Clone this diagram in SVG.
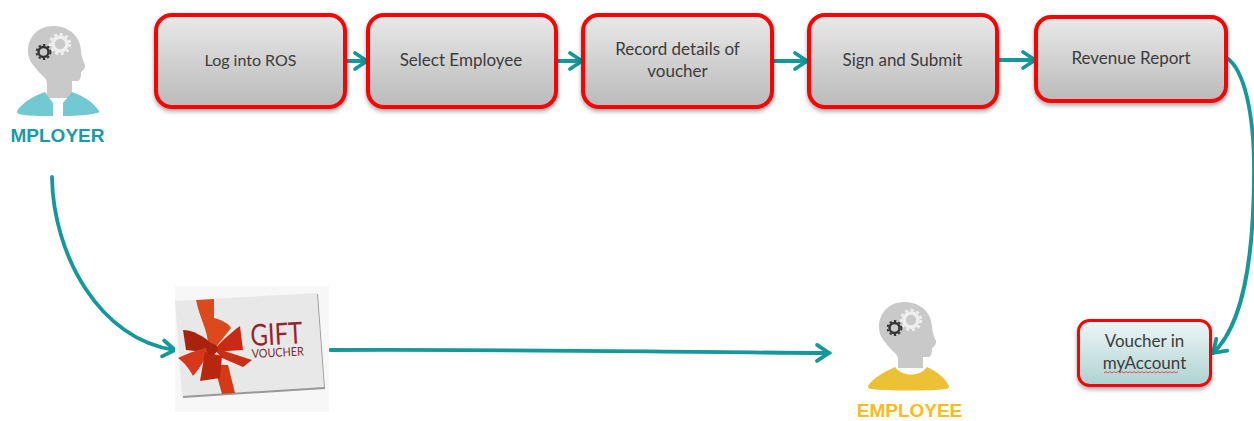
<svg xmlns="http://www.w3.org/2000/svg" width="1254" height="421" viewBox="0 0 1254 421">
<style>
.box{stroke:#fe0000;stroke-width:4;filter:url(#sh)}
.t{font-family:Lato,"Liberation Sans",sans-serif;font-size:17px;fill:#3c3c3c;text-anchor:middle}
.c{fill:none;stroke:#15989a;stroke-width:3.8;stroke-linecap:round;marker-end:url(#ah)}
.lab{font-family:"Liberation Sans",Arial,sans-serif;font-weight:bold;font-size:19px;text-anchor:middle}
</style>
<defs>
<linearGradient id="g" x1="0" y1="0" x2="0" y2="1"><stop offset="0" stop-color="#e9e9e9"/><stop offset="1" stop-color="#bababa"/></linearGradient>
<linearGradient id="b" x1="0" y1="0" x2="0" y2="1"><stop offset="0" stop-color="#eef6f6"/><stop offset="1" stop-color="#aed2d2"/></linearGradient>
<filter id="sh" x="-10%" y="-10%" width="120%" height="125%"><feDropShadow dx="0" dy="2.5" stdDeviation="2" flood-color="#000" flood-opacity=".35"/></filter>
<filter id="soft" x="-5%" y="-5%" width="110%" height="110%"><feGaussianBlur stdDeviation=".6"/></filter>
<marker id="ah" markerUnits="userSpaceOnUse" markerWidth="30" markerHeight="30" refX="19" refY="15" orient="auto"><path d="M7 7L19 15L7 23" fill="none" stroke="#15989a" stroke-width="3.8" stroke-linecap="round"/></marker>
<g id="head">
<path d="M53 26C38 26 28 37 28 51C28 60 33 65 38 71C43 77 47 78 47 84L47 98L72 98L72 81L78 81C81 80 81 75 81 72C83 71 86 67 85 65C83 60 81 56 81 50C80 36 69 26 53 26Z" fill="#c9c9c9"/>
<circle cx="60" cy="44" r="7" fill="none" stroke="#efefef" stroke-width="3.6"/>
<circle cx="60" cy="44" r="9.800" fill="none" stroke="#efefef" stroke-width="2.8" stroke-dasharray="3 2.7"/>
<circle cx="43.500" cy="52" r="5" fill="none" stroke="#333" stroke-width="2.4"/>
<circle cx="43.500" cy="52" r="7" fill="none" stroke="#333" stroke-width="1.8" stroke-dasharray="2.4 2.2"/>
</g>
</defs>
<rect width="1254" height="421" fill="#fff"/>

<g id="connectors">
<path class="c" d="M347 61L367 61"/>
<path class="c" d="M557 61L582 61"/>
<path class="c" d="M773 61L807 61"/>
<path class="c" d="M998 60L1035 60"/>
<path class="c" d="M1227 58C1244 70 1254 112 1254 170C1254 260 1243 325 1213 353"/>
<path class="c" d="M52 177C53 255 100 340 175 350"/>
<path class="c" d="M330 350C500 349 650 352 829 353"/>
</g>

<g id="employer">
<use href="#head"/>
<path d="M47 98L72 98L62 104L62 116L54 116L54 104Z" fill="#fff"/>
<path d="M17 111C22 103 33 96 45 92L53 103L53 116C40 116 27 116 19 114C17 113 17 112 17 111Z" fill="#73c9d3"/>
<path d="M99 111C94 103 84 96 72 92L63 103L63 116C78 116 90 115 97 113C99 113 99 112 99 111Z" fill="#73c9d3"/>
<text class="lab" x="57.500" y="142" fill="#1a9aa6">MPLOYER</text>
</g>

<g id="log-into-ros"><rect class="box" x="156" y="15" width="189" height="92" rx="16" fill="url(#g)"/><text class="t" x="250.500" y="66" style="font-size:16px">Log into ROS</text></g>
<g id="select-employee"><rect class="box" x="368" y="15" width="188" height="92" rx="16" fill="url(#g)"/><text class="t" x="461" y="66">Select Employee</text></g>
<g id="record-details"><rect class="box" x="583" y="15" width="189" height="92" rx="16" fill="url(#g)"/><text class="t" x="677.500" y="55">Record details of</text><text class="t" x="677.500" y="77">voucher</text></g>
<g id="sign-submit"><rect class="box" x="809" y="15" width="188" height="92" rx="16" fill="url(#g)"/><text class="t" x="902.500" y="66">Sign and Submit</text></g>
<g id="revenue-report"><rect class="box" x="1036" y="17" width="190" height="84" rx="15" fill="url(#g)"/><text class="t" x="1131" y="64">Revenue Report</text></g>

<g id="gift-voucher">
<rect x="175" y="286" width="154" height="126" fill="#f7f7f7"/>
<path d="M176 302L318 294L325 389L183 398Z" fill="#999"/>
<path d="M175 301L317 293L324 387L182 396Z" fill="#e9e8e8"/>
<g filter="url(#soft)">
<path d="M214 365L228 365L235 393L222 394Z" fill="#d23a16"/>
<path d="M196 300L214 299L214 318C222 320 228 323 231 328L216 347L208 345C208 330 200 320 196 300Z" fill="#dc4a1c"/>
<path d="M183 330C192 330 204 336 213 345L204 352L186 350Z" fill="#a92410"/>
<path d="M240 326L243 350L212 352C222 340 232 332 240 326Z" fill="#c92c12"/>
<path d="M178 358C190 352 200 350 211 346C206 358 200 368 193 376C190 370 184 362 178 358Z" fill="#d5381a"/>
<path d="M212 347L252 360L243 367L222 358Z" fill="#c92f14"/>
<path d="M205 352L222 356L220 378L200 381Z" fill="#b7260f"/>
<circle cx="212" cy="349" r="5.500" fill="#a82010"/>
</g>
<text x="0" y="0" transform="translate(251 346) rotate(-3)" font-family="Lato,'Liberation Sans',sans-serif" font-size="30" fill="#92272e" textLength="52" lengthAdjust="spacingAndGlyphs">GIFT</text>
<text x="0" y="0" transform="translate(252 358) rotate(-3)" font-family="Lato,'Liberation Sans',sans-serif" font-size="12" fill="#7b2a30" textLength="52" lengthAdjust="spacingAndGlyphs">VOUCHER</text>
</g>

<g id="employee">
<use href="#head" x="851" y="276"/>
<path d="M896 368L928 368L928 376L896 376Z" fill="#fff"/>
<path d="M868 386C873 378 884 372 895 367C902 377 920 377 927 367C938 372 945 378 949 386C949 388 948 389 946 389C930 391 888 391 871 389C869 389 868 388 868 386Z" fill="#ecc136"/>
<text class="lab" x="909.500" y="417" fill="#fbbb20">EMPLOYEE</text>
</g>

<g id="voucher-myaccount">
<rect class="box" x="1078.500" y="320.500" width="132" height="65" rx="11" fill="url(#b)" style="stroke-width:3"/>
<text class="t" x="1144.500" y="347">Voucher in</text>
<text class="t" x="1144.500" y="369">myAccount</text>
<path d="M1104 373l2-1.500 2 1.500 2-1.500 2 1.500 2-1.500 2 1.500 2-1.500 2 1.500 2-1.500 2 1.500 2-1.500 2 1.500 2-1.500 2 1.500 2-1.500 2 1.500 2-1.500 2 1.500 2-1.500 2 1.500 2-1.500 2 1.500 2-1.500 2 1.500 2-1.500 2 1.500 2-1.500 2 1.500 2-1.500 2 1.500 2-1.500 2 1.500 2-1.500 2 1.500 2-1.500 2 1.500 2-1.500" fill="none" stroke="#e04040" stroke-width=".9"/>
</g>
</svg>
